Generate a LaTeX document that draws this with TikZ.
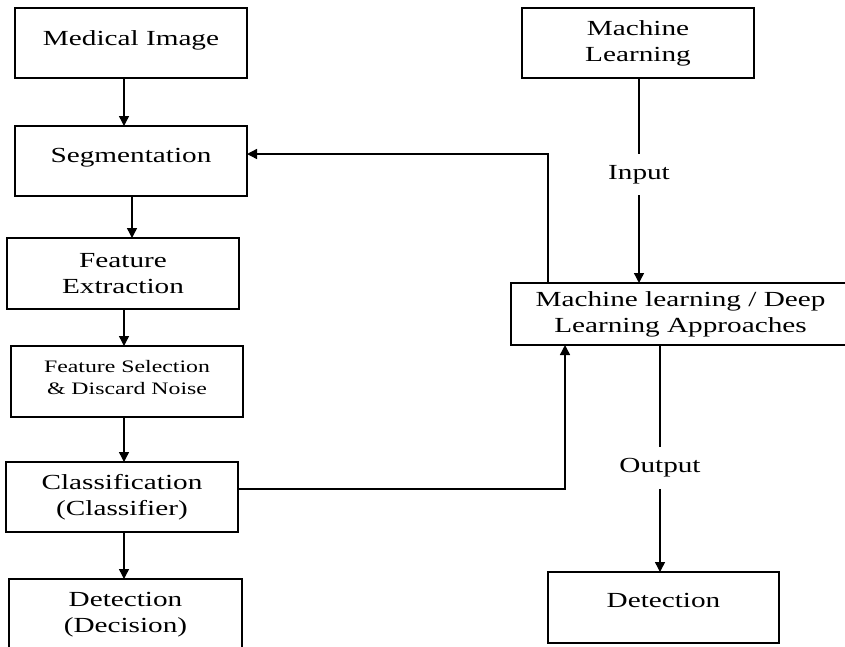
\documentclass[tikz,border=0pt]{standalone}
\usepackage{fontspec}
\setmainfont{Liberation Serif}[FakeStretch=1.36]
\usetikzlibrary{arrows.meta}
\begin{document}
\begin{tikzpicture}[x=1pt,y=-1pt,
  box/.style={draw=black,line width=1.4pt,rectangle,inner sep=0pt,outer sep=0pt,align=center,font=\fontsize{21.5}{26}\selectfont},
  lbl/.style={inner xsep=2pt,inner ysep=11.5pt,outer sep=0pt,font=\fontsize{21.5}{26}\selectfont},
  arr/.style={line width=1.4pt,-{Triangle[length=10pt,width=10pt]}},
  ln/.style={line width=1.4pt}]
\useasboundingbox (0,0) rectangle (845,646);
\fill[white] (0,0) rectangle (845,646);
\clip (0,0) rectangle (845,646);
% left column
\node[box,minimum width=232pt,minimum height=70pt,text depth=10pt] (med) at (131,43) {Medical Image};
\node[box,minimum width=232pt,minimum height=70pt,text depth=12pt] (seg) at (131,161) {Segmentation};
\node[box,minimum width=232pt,minimum height=71pt] (fext) at (123,273.5) {Feature\\Extraction};
\node[box,minimum width=232pt,minimum height=71pt,text depth=8pt,font=\fontsize{17.5}{22}\selectfont] (fsel) at (127,381.5) {Feature Selection\\\& Discard Noise};
\node[box,minimum width=232pt,minimum height=70pt] (cls) at (122,497) {Classification\\(Classifier)};
\node[box,minimum width=233pt,minimum height=71pt] (det1) at (125.5,614.5) {Detection\\(Decision)};
% right column
\node[box,minimum width=232pt,minimum height=70pt] (ml) at (638,43) {Machine\\Learning};
\node[box,minimum width=339pt,minimum height=62pt] (mldl) at (680.5,314) {Machine learning / Deep\\Learning Approaches};
\node[box,minimum width=231pt,minimum height=71pt,text depth=15pt] (det2) at (663.5,607.5) {Detection};
\node[lbl] (inp) at (639,174.5) {Input};
\node[lbl] (out) at (660,468) {Output};
% left arrows
\draw[arr] ([xshift=-7pt]med.south) -- ([xshift=-7pt]med.south |- seg.north);
\draw[arr] ([xshift=1pt]seg.south) -- ([xshift=1pt]seg.south |- fext.north);
\draw[arr] ([xshift=1pt]fext.south) -- ([xshift=1pt]fext.south |- fsel.north);
\draw[arr] ([xshift=-3pt]fsel.south) -- ([xshift=-3pt]fsel.south |- cls.north);
\draw[arr] ([xshift=2pt]cls.south) -- ([xshift=2pt]cls.south |- det1.north);
% right arrows
\draw[ln] (ml.south -| inp) -- (inp.north);
\draw[arr] (inp.south) -- (inp.south |- mldl.north);
\draw[ln] (mldl.south -| out) -- (out.north);
\draw[arr] (out.south) -- (out.south |- det2.north);
% feedback and classifier links
\coordinate (fb) at (548,154);
\draw[arr] (fb |- mldl.north) -- (fb) -- (fb -| seg.east);
\coordinate (cb) at (565,489);
\draw[arr] (cb -| cls.east) -- (cb) -- (cb |- mldl.south);
\end{tikzpicture}
\end{document}
